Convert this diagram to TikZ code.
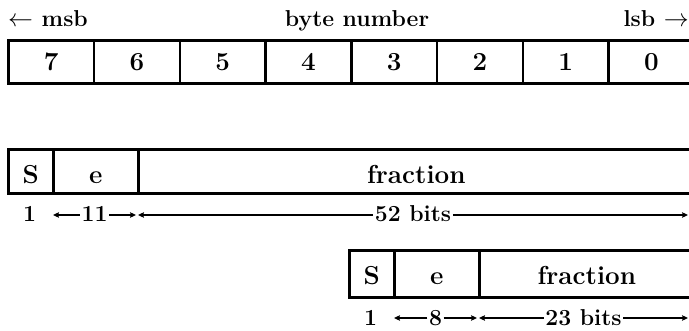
\documentclass[tikz,border=0pt]{standalone}
\usetikzlibrary{arrows.meta}
\begin{document}
\begin{tikzpicture}[x=1pt,y=-1pt,
  cell/.style={draw, line width=2.6pt, inner sep=0pt, anchor=north west,
    font=\fontsize{26}{30}\selectfont\bfseries, text depth=0pt},
  rowA/.style={minimum height=43pt, text height=17pt},
  rowB/.style={minimum height=44pt, text height=24pt},
  rowC/.style={minimum height=47pt, text height=21pt},
  lbl/.style={font=\fontsize{23}{27}\selectfont\bfseries, anchor=base, inner sep=1.5pt},
  dim/.style={line width=1.3pt, -{Stealth[length=6pt,width=5.5pt,inset=1pt]}}]
\useasboundingbox (0,0) rectangle (689,331);

% header labels
\node[lbl, anchor=base west, inner sep=0pt] (msb) at (8,27) {$\leftarrow$ msb};
\node[lbl] (bn) at (357,27) {byte number};
\node[lbl, anchor=base east, inner sep=0pt] (lsb) at (689,27) {lsb $\rightarrow$};

% byte cells
\foreach \d [count=\i from 0] in {7,6,5,4,3,2,1,0} {
  \node[cell, rowA, minimum width=85.75pt] (byte\d) at ({7+85.75*\i},39) {\d};
}

% double precision
\node[cell, rowB, minimum width=45pt] (dS) at (7,148) {S};
\node[cell, rowB, minimum width=85pt] (dE) at (52,148) {e};
\node[cell, rowB, minimum width=556pt] (dF) at (137,148) {fraction};

\node[lbl] (d1) at (29.5,222) {1};
\coordinate (dEl) at (53,215);
\coordinate (dEr) at (136,215);
\node[lbl] (d11) at (94.5,222) {11};
\draw[dim] (d11.west |- dEl) -- (dEl);
\draw[dim] (d11.east |- dEr) -- (dEr);
\coordinate (dFl) at (138,215);
\coordinate (dFr) at (688,215);
\node[lbl] (d52) at (413,222) {52 bits};
\draw[dim] (d52.west |- dFl) -- (dFl);
\draw[dim] (d52.east |- dFr) -- (dFr);

% single precision
\node[cell, rowC, minimum width=45pt] (sS) at (348,249) {S};
\node[cell, rowC, minimum width=85pt] (sE) at (393,249) {e};
\node[cell, rowC, minimum width=215pt] (sF) at (478,249) {fraction};

\node[lbl] (s1) at (370.5,326) {1};
\coordinate (sEl) at (394,318);
\coordinate (sEr) at (477,318);
\node[lbl] (s8) at (435.5,326) {8};
\draw[dim] (s8.west |- sEl) -- (sEl);
\draw[dim] (s8.east |- sEr) -- (sEr);
\coordinate (sFl) at (479,318);
\coordinate (sFr) at (688,318);
\node[lbl] (s23) at (583.5,326) {23 bits};
\draw[dim] (s23.west |- sFl) -- (sFl);
\draw[dim] (s23.east |- sFr) -- (sFr);
\end{tikzpicture}
\end{document}
